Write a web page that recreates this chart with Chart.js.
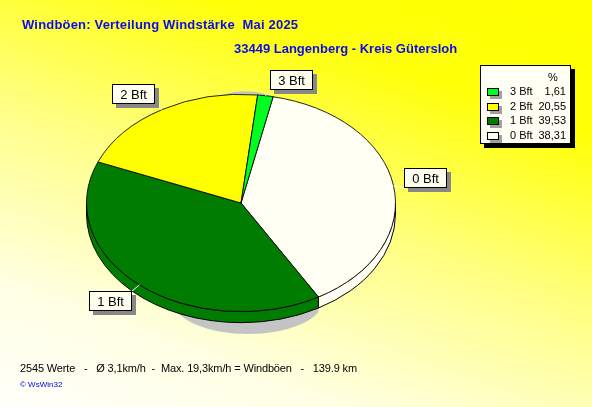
<!DOCTYPE html>
<html>
<head>
<meta charset="utf-8">
<script src="https://cdn.jsdelivr.net/npm/chart.js@4.4.1/dist/chart.umd.min.js"></script>
<style>
  html, body { margin: 0; padding: 0; }
  #wrap {
    position: relative; width: 592px; height: 407px; overflow: hidden;
    background: linear-gradient(200deg, #ffff00 0%, #ffff08 22%, #ffff88 52%, #ffffe4 80%, #fffffa 100%);
    font-family: "Liberation Sans", Arial, sans-serif;
  }
  canvas { position: absolute; left: 0; top: 0; }
  .title { position: absolute; color: #0c0ce8; font-weight: bold; font-size: 13px; white-space: pre; line-height: 16px; }
  .foot { position: absolute; left: 20px; top: 362px; font-size: 11px; color: #000; white-space: pre; letter-spacing: -0.14px; }
  .copy { position: absolute; left: 20px; top: 380px; font-size: 8px; color: #0000ee; white-space: pre; }
  #legend {
    position: absolute; left: 480px; top: 65px; width: 89px; height: 77px;
    border: 1px solid #000; background: #fffff4; box-shadow: 4px 4px 0 #000;
    font-size: 11px;
  }
  #legend div { position: absolute; white-space: pre; line-height: 13px; }
  #legend .sw { width: 10px; height: 6px; border: 1px solid #000; box-shadow: 3px 3px 0 #a0a0a0; }
</style>
</head>
<body>
<div id="wrap">
  <canvas id="c" width="592" height="407"></canvas>
  <div class="title" style="left:22px;top:17px;letter-spacing:0.19px;">Windböen: Verteilung Windstärke  Mai 2025</div>
  <div class="title" style="left:234px;top:41px;">33449 Langenberg - Kreis Gütersloh</div>
  <div id="legend"></div>
  <div class="foot">2545 Werte   -   Ø 3,1km/h  -  Max. 19,3km/h = Windböen   -   139.9 km</div>
  <div class="copy">© WsWin32</div>
</div>
<script>
// Windstärke-Klassen und Anteile in %
const categories = ["0 Bft", "1 Bft", "2 Bft", "3 Bft"];
const percents = [38.31, 39.53, 20.55, 1.61];
const percentLabels = ["38,31", "39,53", "20,55", "1,61"];

const sliceColors = ["#fffff4", "#007c00", "#ffff00", "#00ff20"];
const K = 109 / 155;   // Ellipse: Höhe / Breite
const DEPTH = 11;      // 3D-Tiefe

// Legende (umgekehrte Reihenfolge wie im Original)
const legend = document.getElementById("legend");
legend.innerHTML = '<div style="left:67px;top:5px;">%</div>';
[3, 2, 1, 0].forEach((i, row) => {
  const y = 19 + row * 14.7;
  legend.innerHTML +=
    `<div class="sw" style="left:6px;top:${y + 3}px;background:${sliceColors[i]}"></div>` +
    `<div style="left:29px;top:${y}px;">${categories[i]}</div>` +
    `<div style="right:4px;top:${y}px;">${percentLabels[i]}</div>`;
});

const pie3d = {
  id: "pie3d",
  beforeDatasetsDraw(chart) {
    const ctx = chart.ctx;
    const arcs = chart.getDatasetMeta(0).data;
    const { x, y, outerRadius: r } = arcs[0];

    // Schatten (nur links der Grenze 0/1 Bft sichtbar)
    ctx.save();
    ctx.fillStyle = "#c4c4c4";
    ctx.save();
    ctx.beginPath();
    ctx.rect(0, 0, x + r * Math.cos(arcs[1].startAngle), chart.height);
    ctx.clip();
    ctx.beginPath();
    ctx.ellipse(x + 7, y + 97, r - 79, 34, 0, 0, Math.PI * 2);
    ctx.fill();
    ctx.restore();
    ctx.beginPath();
    ctx.ellipse(x + 4, y - 2, r - 60, r * K + 1, 0, Math.PI, 2 * Math.PI);
    ctx.fill();

    // Seitenwände (nur vordere Hälfte sichtbar)
    arcs.forEach((arc, i) => {
      for (const off of [0, 2 * Math.PI]) {
        const a = Math.max(arc.startAngle, off);
        const b = Math.min(arc.endAngle, off + Math.PI);
        if (b <= a) continue;
        ctx.beginPath();
        ctx.ellipse(x, y, r, r * K, 0, a, b);
        ctx.ellipse(x, y + DEPTH, r, r * K, 0, b, a, true);
        ctx.closePath();
        ctx.fillStyle = sliceColors[i];
        ctx.fill();
        ctx.strokeStyle = "#000";
        ctx.lineWidth = 1;
        ctx.stroke();
      }
    });
    ctx.restore();

    // Deckfläche gestaucht zeichnen
    ctx.save();
    ctx.translate(x, y);
    ctx.scale(1, K);
    ctx.translate(-x, -y);
  },
  afterDatasetsDraw(chart) {
    const ctx = chart.ctx;
    ctx.restore();
    const arcs = chart.getDatasetMeta(0).data;
    const { x, y, outerRadius: r } = arcs[0];
    const w = 43, h = 20;
    ctx.save();
    ctx.font = '13px "Liberation Sans", Arial, sans-serif';
    ctx.textAlign = "center";
    ctx.textBaseline = "middle";
    arcs.forEach((arc, i) => {
      const mid = (arc.startAngle + arc.endAngle) / 2;
      const c = Math.cos(mid), s = Math.sin(mid);
      const ex = x + r * c, ey = y + r * K * s;
      const cx = ex + Math.sign(c) * (w / 2 + 4 + 6 * Math.abs(c));
      const cy = ey + Math.sign(s) * 16 * Math.min(1, Math.abs(s) * 3);
      const bx = Math.round(cx - w / 2), by = Math.round(cy - h / 2);
      // Verbindungslinie
      const kx = c > 0 ? bx : bx + w;
      const ky = s < 0 ? by + h : by;
      ctx.strokeStyle = "#ffffff";
      ctx.lineWidth = 1;
      ctx.beginPath();
      ctx.moveTo(ex, ey);
      ctx.lineTo(kx, ky);
      ctx.stroke();
      // Box mit Schatten
      ctx.fillStyle = "#888888";
      ctx.fillRect(bx + 4, by + 4, w, h);
      ctx.fillStyle = "#fffff0";
      ctx.fillRect(bx, by, w, h);
      ctx.strokeStyle = "#000";
      ctx.strokeRect(bx + 0.5, by + 0.5, w - 1, h - 1);
      ctx.fillStyle = "#000";
      ctx.fillText(categories[i], bx + w / 2, by + h / 2 + 1);
    });
    ctx.restore();
  }
};

new Chart(document.getElementById("c"), {
  type: "pie",
  data: {
    labels: categories,
    datasets: [{
      data: percents,
      backgroundColor: sliceColors,
      borderColor: "#000",
      borderWidth: 1
    }]
  },
  options: {
    responsive: false,
    animation: false,
    rotation: 12,
    layout: { padding: { left: 86, right: 196, top: 48, bottom: 49 } },
    plugins: { legend: { display: false }, tooltip: { enabled: false } }
  },
  plugins: [pie3d]
});
</script>
</body>
</html>
